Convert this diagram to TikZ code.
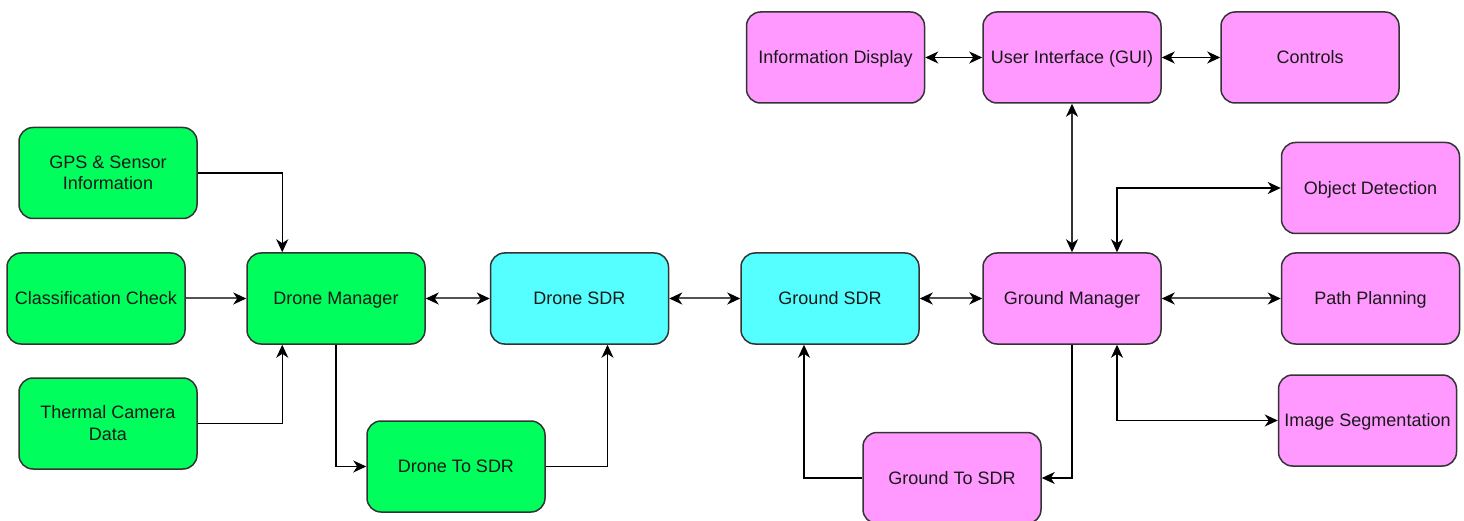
\documentclass[tikz,border=0pt]{standalone}
\usepackage{fontspec}
\setmainfont{Liberation Sans}
\usetikzlibrary{arrows.meta}
\definecolor{boxgreen}{HTML}{00FF5C}
\definecolor{boxcyan}{HTML}{55FFFF}
\definecolor{boxpink}{HTML}{FF99FF}
\definecolor{edge}{HTML}{333333}
\tikzset{ahead/.tip={Stealth[length=13pt,width=12pt,inset=4pt,color=black]}}
\begin{document}
\begin{tikzpicture}[x=1pt,y=-1pt,
  block/.style={draw=edge, line width=1.5pt, rounded corners=14pt,
    minimum width=178pt, minimum height=91pt, align=center,
    font=\fontsize{18}{21.5}\selectfont, text=black!90, inner sep=2pt,
    text depth=1pt},
  green/.style={block, fill=boxgreen},
  cyan/.style={block, fill=boxcyan},
  pink/.style={block, fill=boxpink},
  tip/.style={-{ahead}},
  link/.style={tip, draw=black, line width=1.2pt},
  trunk/.style={tip, draw=black!68, line width=2pt},
  both/.style={{ahead}-{ahead}}
]
\useasboundingbox (0,0) rectangle (1464,521);

% drone side
\node[green] (gps)  at (108,173)   {GPS \& Sensor\\Information};
\node[green] (cls)  at (96,298.5)  {Classification Check};
\node[green] (tcd)  at (108,423.5) {Thermal Camera\\Data};
\node[green] (dm)   at (336,298.5) {Drone Manager};
\node[green] (d2s)  at (456,466.5) {Drone To SDR};
\node[cyan]  (dsdr) at (579.5,298.5) {Drone SDR};

% ground side
\node[cyan]  (gsdr) at (830,298.5)  {Ground SDR};
\node[pink]  (gm)   at (1072,298.5) {Ground Manager};
\node[pink]  (g2s)  at (952,478)    {Ground To SDR};
\node[pink]  (info) at (835.5,57.5) {Information Display};
\node[pink]  (ui)   at (1072,57.5)  {User Interface (GUI)};
\node[pink]  (ctl)  at (1310,57.5)  {Controls};
\node[pink]  (od)   at (1370.5,188) {Object Detection};
\node[pink]  (pp)   at (1370.5,298.5) {Path Planning};
\node[pink]  (is)   at (1367.5,420.5) {Image Segmentation};

% inputs of the drone manager
\draw[link] (gps.east) -| ([xshift=36pt]dm.north west);
\draw[trunk] (cls.east) -- (dm.west);
\draw[link] (tcd.east) -| ([xshift=36pt]dm.south west);

% drone downlink path
\draw[link] (dm.south) |- (d2s.west);
\draw[link] (d2s.east) -| ([xshift=28pt]dsdr.south);

% radio chain
\draw[trunk,both] (dm.east) -- (dsdr.west);
\draw[trunk,both] (dsdr.east) -- (gsdr.west);
\draw[trunk,both] (gsdr.east) -- (gm.west);

% ground uplink path
\draw[link] (gm.south) |- (g2s.east);
\draw[link] (g2s.west) -| ([xshift=-26pt]gsdr.south);

% ground manager services
\draw[trunk,both,draw=black!80,line width=1.6pt] (gm.north) -- (ui.south);
\draw[link,both] (info.east) -- (ui.west);
\draw[link,both] (ui.east) -- (ctl.west);
\draw[link,both] ([xshift=45pt]gm.north) |- (od.west);
\draw[trunk,both] (gm.east) -- (pp.west);
\draw[link,both] ([xshift=45pt]gm.south) |- (is.west);
\end{tikzpicture}
\end{document}
